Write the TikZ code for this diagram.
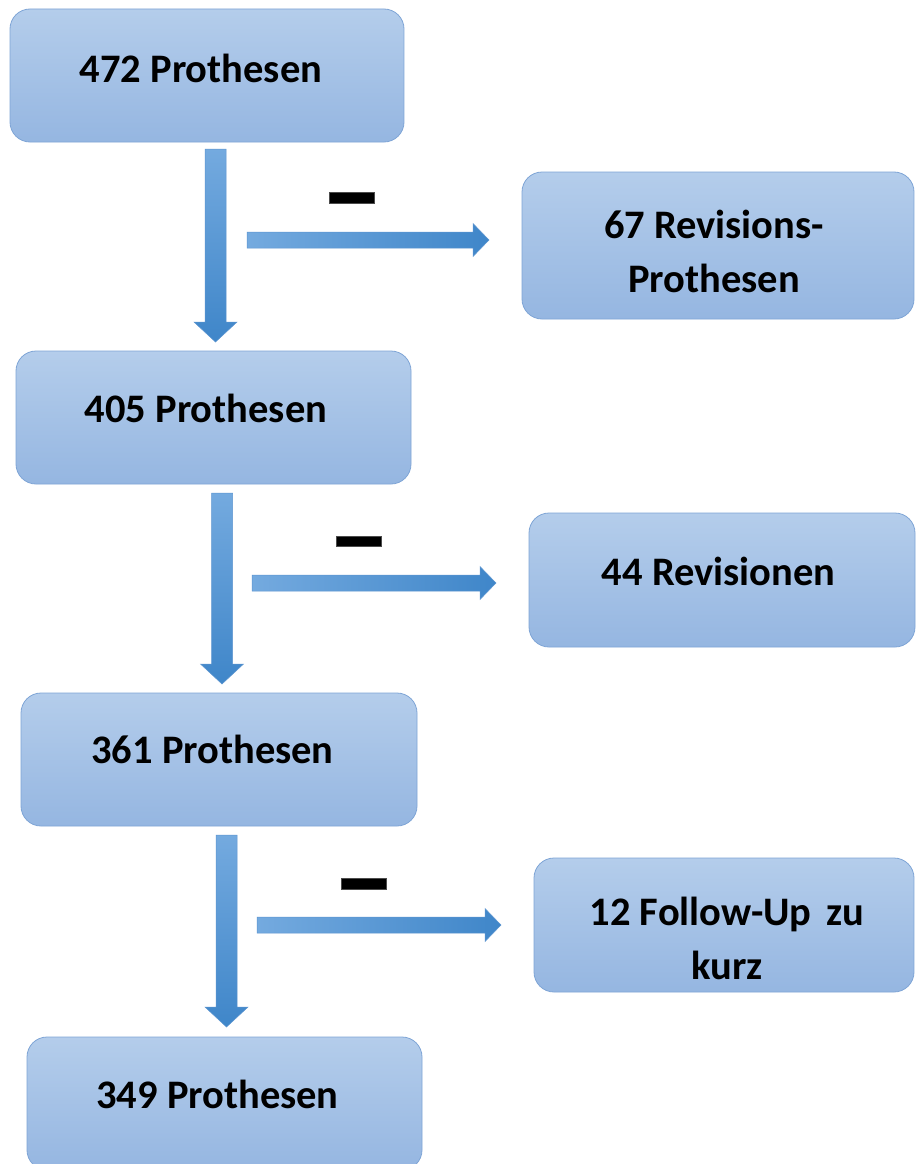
\documentclass[tikz,border=0pt]{standalone}
\usepackage{fontspec}
\setmainfont{Carlito}
\usetikzlibrary{calc}
\definecolor{boxtop}{HTML}{B4CDEB}
\definecolor{boxbot}{HTML}{95B6E1}
\definecolor{boxline}{HTML}{7FA5D6}
\definecolor{arrlight}{HTML}{74AADF}
\definecolor{arrdark}{HTML}{3F86C9}
\definecolor{arrline}{HTML}{5D95D0}
\newcommand\vblock[3]{%
  \path[vshade] (#1-10.5,#2) -- (#1+10.5,#2) -- (#1+10.5,#3-20) -- (#1+21.5,#3-20)
    -- (#1,#3) -- (#1-21.5,#3-20) -- (#1-10.5,#3-20) -- cycle;}
\newcommand\hblock[3]{%
  \path[hshade] (#2,#1-8) -- (#3-16,#1-8) -- (#3-16,#1-16.5) -- (#3,#1)
    -- (#3-16,#1+16.5) -- (#3-16,#1+8) -- (#2,#1+8) -- cycle;}
\begin{document}
\begin{tikzpicture}[x=1pt,y=-1pt,
  flowbox/.style={draw=boxline, line width=0.8pt, rounded corners=20pt,
    top color=boxtop, bottom color=boxbot, minimum height=133pt,
    inner sep=0pt, outer sep=0pt, anchor=north west},
  lbl/.style={font=\fontsize{40.5}{54}\selectfont\bfseries, anchor=base,
    inner sep=0pt, align=center},
  vshade/.style={top color=arrlight, bottom color=arrdark, draw=arrline, line width=0.5pt},
  hshade/.style={left color=arrlight, right color=arrdark, draw=arrline, line width=0.5pt},
  minus/.style={fill=black, draw=black!70, line width=0.4pt}]
\clip (0,0) rectangle (917,1164);
\fill[white] (0,0) rectangle (917,1164);

% left column
\node[flowbox, minimum width=394pt] (b1) at (10,9) {};
\node[flowbox, minimum width=395pt] (b2) at (16,351) {};
\node[flowbox, minimum width=396pt] (b3) at (21,693) {};
\node[flowbox, minimum width=395pt] (b4) at (27,1037) {};
% right column
\node[flowbox, minimum width=392pt, minimum height=147pt] (r1) at (522,172) {};
\node[flowbox, minimum width=386pt, minimum height=134pt] (r2) at (529,513) {};
\node[flowbox, minimum width=380pt, minimum height=134pt] (r3) at (534,858) {};

% labels
\node[lbl] (t1) at ($(b1.north west)+(191,73)$) {472 Prothesen};
\node[lbl] (t2) at ($(b2.north west)+(190,71)$) {405 Prothesen};
\node[lbl] (t3) at ($(b3.north west)+(191.5,70)$) {361 Prothesen};
\node[lbl] (t4) at ($(b4.north west)+(190.5,71)$) {349 Prothesen};
\node[lbl] (s1) at ($(r1.north west)+(192,120)$) {67 Revisions-\\Prothesen};
\node[lbl] (s2) at ($(r2.north west)+(189.5,72)$) {44 Revisionen};
\node[lbl] (s3) at ($(r3.north west)+(193,121)$) {12 Follow-Up\hspace{6pt} zu\\kurz};

% block arrows
\vblock{215.5}{149}{342}
\vblock{222}{493}{684}
\vblock{226.5}{835}{1027}
\hblock{240}{247}{489}
\hblock{583}{252}{496}
\hblock{925}{257}{501}

% minus signs
\path[minus] (329,192) rectangle (374,203);
\path[minus] (336,536) rectangle (381,546);
\path[minus] (341,878) rectangle (386,889);
\end{tikzpicture}
\end{document}
